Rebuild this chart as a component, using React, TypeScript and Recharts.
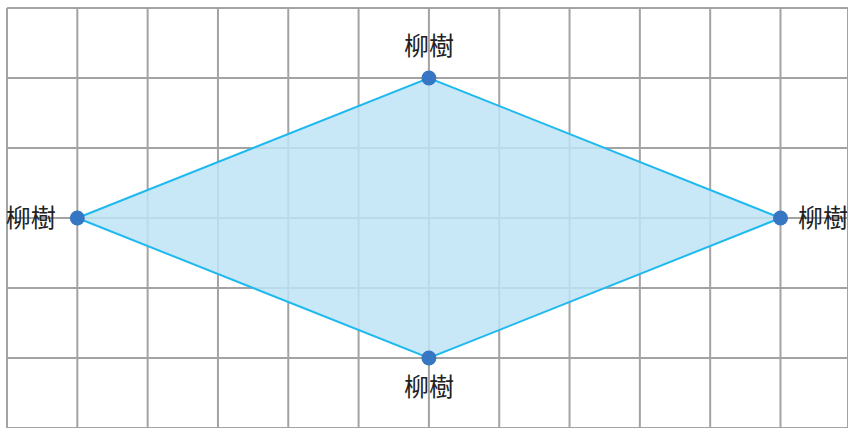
import React from 'react';
import { ComposedChart, Area, XAxis, YAxis, CartesianGrid, ReferenceDot } from 'recharts';

// grid ticks (one unit = one grid square)
const xTicks = [0, 1, 2, 3, 4, 5, 6, 7, 8, 9, 10, 11];
const yTicks = [0, 1, 2, 3, 4, 5, 6];

// rhombus vertices
const vertexX = [1, 6, 11, 6];
const vertexY = [3, 5, 3, 1];
const vertexLabels = ['柳樹', '柳樹', '柳樹', '柳樹'];
const labelSides = ['left', 'top', 'right', 'bottom'];

// the filled shape as a band: lower / upper edge at each x
const bandX = [1, 6, 11];
const bandLow = [3, 1, 3];
const bandHigh = [3, 5, 3];

const bandData = bandX.map((x, i) => ({ x, range: [bandLow[i], bandHigh[i]] }));

const labelOffsets: Record<string, number> = { left: 14, top: 16, right: 10, bottom: 13 };

const App = () => {
  return (
    <div style={{ position: 'absolute', left: 0, top: 0, background: '#fff' }}>
      <ComposedChart
        width={848}
        height={428}
        data={bandData}
        margin={{ top: 8, right: 0, bottom: 0, left: 7 }}
      >
        <CartesianGrid stroke="#a3a3a3" strokeWidth={2} />
        <XAxis
          dataKey="x"
          type="number"
          domain={[0, 11.96]}
          ticks={xTicks}
          hide
          allowDataOverflow
        />
        <YAxis type="number" domain={[0, 6]} ticks={yTicks} hide allowDataOverflow />
        <Area
          type="linear"
          dataKey="range"
          stroke="#1fb9ef"
          strokeWidth={2}
          fill="#bfe4f6"
          fillOpacity={0.85}
          dot={false}
          activeDot={false}
          isAnimationActive={false}
        />
        {vertexX.map((x, i) => (
          <ReferenceDot
            key={i}
            x={x}
            y={vertexY[i]}
            r={7.5}
            fill="#3676c2"
            stroke="none"
            label={{
              value: vertexLabels[i],
              position: labelSides[i] as any,
              offset: labelOffsets[labelSides[i]],
              fill: '#222',
              fontSize: 25,
              fontFamily: '"Noto Sans CJK TC", sans-serif',
            }}
          />
        ))}
      </ComposedChart>
    </div>
  );
};

export default App;
